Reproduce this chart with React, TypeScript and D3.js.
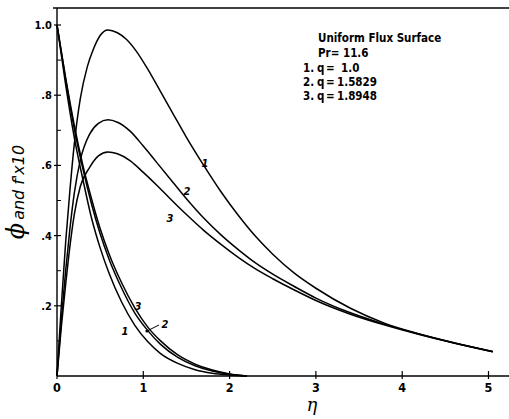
import React from 'react'
import * as d3 from 'd3'

// eta values + curve values
const ETA_F1 = [0, 0.05, 0.1, 0.15, 0.2, 0.27, 0.35, 0.42, 0.5, 0.59, 0.7, 0.8, 0.92, 1.05, 1.2, 1.35, 1.5, 1.7, 1.9, 2.1, 2.3, 2.5, 2.75, 3.0, 3.4, 3.8, 4.2, 4.6, 5.05]
const F1 = [0, 0.2, 0.38, 0.53, 0.66, 0.79, 0.88, 0.93, 0.97, 0.986, 0.978, 0.96, 0.925, 0.875, 0.81, 0.745, 0.68, 0.6, 0.525, 0.458, 0.398, 0.347, 0.293, 0.25, 0.193, 0.15, 0.12, 0.095, 0.07]

const ETA_F2 = [0, 0.05, 0.1, 0.15, 0.2, 0.27, 0.38, 0.48, 0.59, 0.7, 0.85, 1.0, 1.15, 1.3, 1.5, 1.7, 1.9, 2.1, 2.3, 2.5, 2.75, 3.0, 3.4, 3.8, 4.2, 4.6, 5.05]
const F2 = [0, 0.16, 0.3, 0.42, 0.52, 0.615, 0.69, 0.72, 0.73, 0.723, 0.697, 0.655, 0.61, 0.565, 0.505, 0.45, 0.402, 0.36, 0.322, 0.29, 0.255, 0.222, 0.18, 0.147, 0.119, 0.094, 0.069]

const ETA_F3 = [0, 0.05, 0.1, 0.15, 0.2, 0.27, 0.38, 0.48, 0.59, 0.7, 0.85, 1.0, 1.15, 1.3, 1.5, 1.7, 1.9, 2.1, 2.3, 2.5, 2.75, 3.0, 3.4, 3.8, 4.2, 4.6, 5.05]
const F3 = [0, 0.14, 0.26, 0.37, 0.46, 0.54, 0.595, 0.627, 0.638, 0.633, 0.613, 0.58, 0.545, 0.508, 0.46, 0.415, 0.375, 0.338, 0.305, 0.277, 0.245, 0.215, 0.176, 0.145, 0.118, 0.094, 0.069]

const ETA_PHI = [0, 0.1, 0.2, 0.3, 0.4, 0.5, 0.6, 0.75, 0.9, 1.05, 1.2, 1.4, 1.6, 1.8, 2.0, 2.2]
const PHI1 = [1.0, 0.83, 0.68, 0.56, 0.45, 0.365, 0.295, 0.21, 0.145, 0.098, 0.064, 0.036, 0.018, 0.008, 0.003, 0]
const PHI2 = [1.0, 0.845, 0.705, 0.59, 0.49, 0.405, 0.335, 0.25, 0.18, 0.13, 0.09, 0.053, 0.029, 0.014, 0.005, 0]
const PHI3 = [1.0, 0.85, 0.715, 0.6, 0.505, 0.42, 0.35, 0.265, 0.195, 0.14, 0.1, 0.06, 0.034, 0.017, 0.006, 0]

const X_TICKS = [0, 1, 2, 3, 4, 5]
const Y_TICKS = [0.2, 0.4, 0.6, 0.8, 1.0]
const Y_TICK_LABELS = ['.2', '.4', '.6', '.8', '1.0']
const Y_MINOR = [0.1, 0.3, 0.5, 0.7, 0.9]

const LEGEND_TITLE = 'Uniform Flux Surface'
const LEGEND_PR = 'Pr= 11.6'
const LEGEND_NUM = ['1.', '2.', '3.']
const LEGEND_Q = ['1.0', '1.5829', '1.8948']

const W = 509
const H = 419
const FONT = "'DejaVu Sans Condensed', 'DejaVu Sans', sans-serif"

export default function App() {
  const x = d3.scaleLinear().domain([0, 5]).range([57, 488.5])
  const y = d3.scaleLinear().domain([0, 1]).range([376, 25])
  const line = d3.line<[number, number]>().x((d) => x(d[0])).y((d) => y(d[1])).curve(d3.curveMonotoneX)
  const zip = (a: number[], b: number[]) => a.map((v, i) => [v, b[i]] as [number, number])

  const curves = [
    zip(ETA_F1, F1), zip(ETA_F2, F2), zip(ETA_F3, F3),
    zip(ETA_PHI, PHI1), zip(ETA_PHI, PHI2), zip(ETA_PHI, PHI3),
  ]

  const x0 = x(0)
  const y0 = y(0)

  return (
    <svg width={W} height={H} style={{ position: 'absolute', left: 0, top: 0, background: '#fff' }}>
      {/* frame */}
      <line x1={53} y1={8} x2={W} y2={8} stroke="#000" strokeWidth={1.6} />
      <line x1={x0} y1={8} x2={x0} y2={y0} stroke="#000" strokeWidth={1.4} />
      <line x1={x0} y1={y0} x2={W} y2={y0} stroke="#000" strokeWidth={1.4} />

      {/* y ticks */}
      {Y_TICKS.map((t, i) => (
        <g key={t}>
          <line x1={x0 - 3} x2={x0 + 4} y1={y(t)} y2={y(t)} stroke="#000" strokeWidth={1.2} />
          <text x={x0 - 5} y={y(t) + 4} textAnchor="end" fontFamily={FONT} fontWeight="bold" fontSize={11}>{Y_TICK_LABELS[i]}</text>
        </g>
      ))}
      {Y_MINOR.map((t) => (
        <line key={t} x1={x0} x2={x0 + 4} y1={y(t)} y2={y(t)} stroke="#000" strokeWidth={1} />
      ))}

      {/* x ticks */}
      {X_TICKS.map((t) => (
        <g key={t}>
          <line x1={x(t)} x2={x(t)} y1={y0 - 5} y2={y0 + 3} stroke="#000" strokeWidth={1.2} />
          <text x={x(t)} y={y0 + 16} textAnchor="middle" fontFamily={FONT} fontWeight="bold" fontSize={12.5}>{t}</text>
        </g>
      ))}

      {/* curves */}
      {curves.map((c, i) => (
        <path key={i} d={line(c) || ''} fill="none" stroke="#000" strokeWidth={1.5} />
      ))}

      {/* curve labels */}
      <g fontFamily={FONT} fontSize={11} fontStyle="italic" fontWeight="bold">
        <text x={205} y={167} textAnchor="middle">1</text>
        <text x={187} y={195} textAnchor="middle">2</text>
        <text x={170} y={222} textAnchor="middle">3</text>
        <text x={125} y={335} textAnchor="middle">1</text>
        <text x={138} y={310} textAnchor="middle">3</text>
        <text x={165} y={328} textAnchor="middle">2</text>
      </g>
      <line x1={147} y1={331} x2={159} y2={325} stroke="#000" strokeWidth={1} />
      <circle cx={147} cy={331} r={1.6} fill="#000" />

      {/* legend */}
      <g fontFamily={FONT} fontWeight="bold" fontSize={11.5}>
        <text x={318} y={42}>{LEGEND_TITLE}</text>
        <text x={318} y={57}>{LEGEND_PR}</text>
        {LEGEND_NUM.map((n, i) => (
          <g key={n}>
            <text x={303} y={72 + i * 14}>{n}</text>
            <text x={317} y={72 + i * 14}>q</text>
            <text x={326} y={72 + i * 14}>=</text>
            <text x={i === 0 ? 341 : 337} y={72 + i * 14}>{LEGEND_Q[i]}</text>
          </g>
        ))}
      </g>

      {/* axis titles */}
      <text x={312} y={411} textAnchor="middle" fontFamily="'DejaVu Serif', serif" fontStyle="italic" fontSize={18}>η</text>
      <text transform="translate(24,192) rotate(-90)" textAnchor="middle" fontFamily="'DejaVu Sans', sans-serif" fontStyle="italic" fontSize={16}>
        <tspan fontSize={24} fontFamily="'DejaVu Serif', serif">ϕ</tspan>
        <tspan dx={3} fontSize={16}>and f'x10</tspan>
      </text>
    </svg>
  )
}
